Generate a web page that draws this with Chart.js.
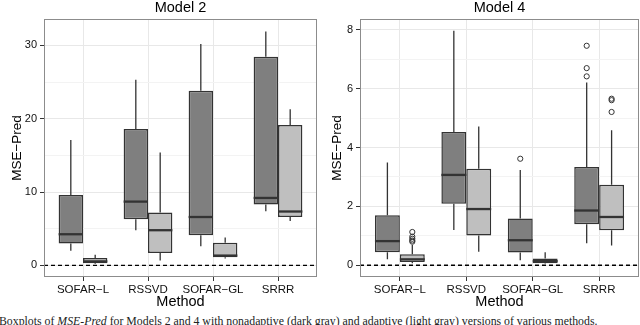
<!DOCTYPE html>
<html><head><meta charset="utf-8">
<script src="https://cdn.jsdelivr.net/npm/chart.js@4.4.0/dist/chart.umd.min.js"></script>
<style>
html,body{margin:0;padding:0;background:#fff;width:640px;height:325px;overflow:hidden;position:relative}
.panel{position:absolute;top:0;width:320px;height:312px}
#caption{position:absolute;left:-1px;top:316px;font-family:'Liberation Serif',serif;font-size:11.8px;line-height:1;white-space:nowrap;color:#222}
</style></head><body>
<div class="panel" style="left:0"><canvas id="c1" width="320" height="312"></canvas></div>
<div class="panel" style="left:320px"><canvas id="c2" width="320" height="312"></canvas></div>
<div id="caption">Boxplots of <i>MSE-Pred</i> for Models 2 and 4 with nonadaptive (dark gray) and adaptive (light gray) versions of various methods.</div>
<script>
const methods = ['SOFAR\u2212L', 'RSSVD', 'SOFAR\u2212GL', 'SRRR'];

// Model 2 — nonadaptive (dark gray)
const m2NonLow  = [2.0, 4.8, 2.6, 7.4];
const m2NonQ1   = [3.0, 6.3, 4.1, 8.3];
const m2NonMed  = [4.25, 8.7, 6.6, 9.2];
const m2NonQ3   = [9.6, 18.6, 23.8, 28.45];
const m2NonHigh = [17.1, 25.3, 30.2, 31.9];
const m2NonOut  = [[], [], [], []];
// Model 2 — adaptive (light gray)
const m2AdaLow  = [0.2, 0.66, 0.93, 6.06];
const m2AdaQ1   = [0.3, 1.7, 1.1, 6.6];
const m2AdaMed  = [0.55, 4.8, 1.34, 7.35];
const m2AdaQ3   = [1.0, 7.2, 3.1, 19.15];
const m2AdaHigh = [1.45, 15.4, 3.8, 21.3];
const m2AdaOut  = [[], [], [], []];
const m2YTicks  = [0, 5, 10, 15, 20, 25, 30];

// Model 4 — nonadaptive (dark gray)
const m4NonLow  = [0.2, 1.2, 0.17, 0.75];
const m4NonQ1   = [0.44, 2.09, 0.43, 1.39];
const m4NonMed  = [0.82, 3.07, 0.85, 1.86];
const m4NonQ3   = [1.70, 4.53, 1.59, 3.34];
const m4NonHigh = [3.49, 7.97, 3.24, 6.21];
const m4NonOut  = [[], [], [3.62], [6.42, 6.7, 7.46]];
// Model 4 — adaptive (light gray)
const m4AdaLow  = [0.07, 0.46, 0.05, 0.67];
const m4AdaQ1   = [0.11, 1.01, 0.07, 1.19];
const m4AdaMed  = [0.2, 1.91, 0.14, 1.64];
const m4AdaQ3   = [0.37, 3.28, 0.23, 2.74];
const m4AdaHigh = [0.69, 4.72, 0.44, 4.59];
const m4AdaOut  = [[0.8, 0.84, 0.9, 0.97, 1.13], [], [], [5.21, 5.61, 5.66]];
const m4YTicks  = [0, 1, 2, 3, 4, 5, 6, 7, 8];

const FONT = "'Liberation Sans', Arial, sans-serif";
const DARK = '#7f7f7f', LIGHT = '#bfbfbf', LINE = '#333333';

function boxPlugin(stats) {
  return {
    id: 'boxExtras',
    beforeDatasetsDraw(chart) {
      const ctx = chart.ctx, y = chart.scales.y;
      ctx.save();
      ctx.strokeStyle = LINE; ctx.lineWidth = 1.3;
      stats.forEach((s, di) => {
        chart.getDatasetMeta(di).data.forEach((bar, i) => {
          ctx.beginPath();
          ctx.moveTo(bar.x, y.getPixelForValue(s.q3[i]));
          ctx.lineTo(bar.x, y.getPixelForValue(s.hi[i]));
          ctx.moveTo(bar.x, y.getPixelForValue(s.q1[i]));
          ctx.lineTo(bar.x, y.getPixelForValue(s.lo[i]));
          ctx.stroke();
        });
      });
      ctx.restore();
    },
    afterDatasetsDraw(chart) {
      const ctx = chart.ctx, y = chart.scales.y, a = chart.chartArea;
      ctx.save();
      stats.forEach((s, di) => {
        chart.getDatasetMeta(di).data.forEach((bar, i) => {
          const w = bar.width;
          ctx.strokeStyle = LINE; ctx.lineWidth = 2.3;
          ctx.beginPath();
          const py = y.getPixelForValue(s.med[i]);
          ctx.moveTo(bar.x - w / 2, py); ctx.lineTo(bar.x + w / 2, py);
          ctx.stroke();
          ctx.lineWidth = 1;
          s.out[i].forEach(v => {
            ctx.beginPath();
            ctx.arc(bar.x, y.getPixelForValue(v), 2.6, 0, Math.PI * 2);
            ctx.stroke();
          });
        });
      });
      // dashed zero line
      const p0 = y.getPixelForValue(0);
      ctx.strokeStyle = '#000'; ctx.lineWidth = 1.3; ctx.setLineDash([4, 3]);
      ctx.beginPath(); ctx.moveTo(a.left, p0); ctx.lineTo(a.right, p0); ctx.stroke();
      ctx.setLineDash([]);
      // panel border
      ctx.strokeStyle = '#8c8c8c'; ctx.lineWidth = 1;
      ctx.strokeRect(a.left + 0.5, a.top + 0.5, a.right - a.left - 1, a.bottom - a.top - 1);
      ctx.restore();
    }
  };
}

function makeChart(id, title, nonS, adaS, yTicks, major, ymin, ymax, yW, padR) {
  const mk = (s) => methods.map((m, i) => ({ x: i, y: [s.q1[i], s.q3[i]] }));
  return new Chart(document.getElementById(id), {
    type: 'bar',
    data: {
      datasets: [
        { label: 'nonadaptive', data: mk(nonS), backgroundColor: DARK, borderColor: LINE, borderWidth: 1.5, borderSkipped: false, categoryPercentage: 0.75, barPercentage: 1 },
        { label: 'adaptive', data: mk(adaS), backgroundColor: LIGHT, borderColor: LINE, borderWidth: 1.5, borderSkipped: false, categoryPercentage: 0.75, barPercentage: 1 }
      ]
    },
    plugins: [boxPlugin([nonS, adaS])],
    options: {
      responsive: false, animation: false,
      layout: { padding: { left: 0, right: padR, top: 0, bottom: 0 } },
      plugins: {
        legend: { display: false }, tooltip: { enabled: false },
        title: { display: true, text: title, fullSize: false, color: '#000',
          font: { family: FONT, size: 14.5, weight: 'normal', lineHeight: 1 }, padding: { top: 1, bottom: 3.5 } }
      },
      scales: {
        x: {
          type: 'linear', min: -0.6, max: 3.6, offset: false,
          afterBuildTicks: s => { s.ticks = methods.map((m, i) => ({ value: i })); },
          afterFit: s => { s.height = 35; },
          ticks: { callback: v => methods[v], autoSkip: false, maxRotation: 0, color: '#111', padding: 1.5, font: { family: FONT, size: 11.5 } },
          grid: { offset: false, color: '#e8e8e8', tickColor: LINE, tickLength: 4 },
          border: { display: false },
          title: { display: true, text: 'Method', color: '#000', font: { family: FONT, size: 14.5 }, padding: { top: 0, bottom: 1 } }
        },
        y: {
          min: ymin, max: ymax,
          afterBuildTicks: s => { s.ticks = yTicks.map(v => ({ value: v })); },
          afterFit: s => { s.width = yW; },
          ticks: { callback: v => (v % major === 0 ? String(v) : ''), color: '#111', padding: 3, font: { family: FONT, size: 11 } },
          grid: {
            color: c => (c.tick && c.tick.value % major === 0 ? '#e8e8e8' : '#f3f3f3'),
            tickColor: c => (c.tick && c.tick.value % major === 0 ? LINE : 'rgba(0,0,0,0)'),
            tickLength: 4
          },
          border: { display: false },
          title: { display: true, text: 'MSE\u2212Pred', color: '#000', font: { family: FONT, size: 13.5 }, padding: { top: 9, bottom: 0 } }
        }
      }
    }
  });
}

makeChart('c1', 'Model 2',
  { lo: m2NonLow, q1: m2NonQ1, med: m2NonMed, q3: m2NonQ3, hi: m2NonHigh, out: m2NonOut },
  { lo: m2AdaLow, q1: m2AdaQ1, med: m2AdaMed, q3: m2AdaQ3, hi: m2AdaHigh, out: m2AdaOut },
  m2YTicks, 10, -1.58, 33.6, 44, 3);
makeChart('c2', 'Model 4',
  { lo: m4NonLow, q1: m4NonQ1, med: m4NonMed, q3: m4NonQ3, hi: m4NonHigh, out: m4NonOut },
  { lo: m4AdaLow, q1: m4AdaQ1, med: m4AdaMed, q3: m4AdaQ3, hi: m4AdaHigh, out: m4AdaOut },
  m4YTicks, 2, -0.4, 8.37, 40, 1);
</script>
</body></html>
